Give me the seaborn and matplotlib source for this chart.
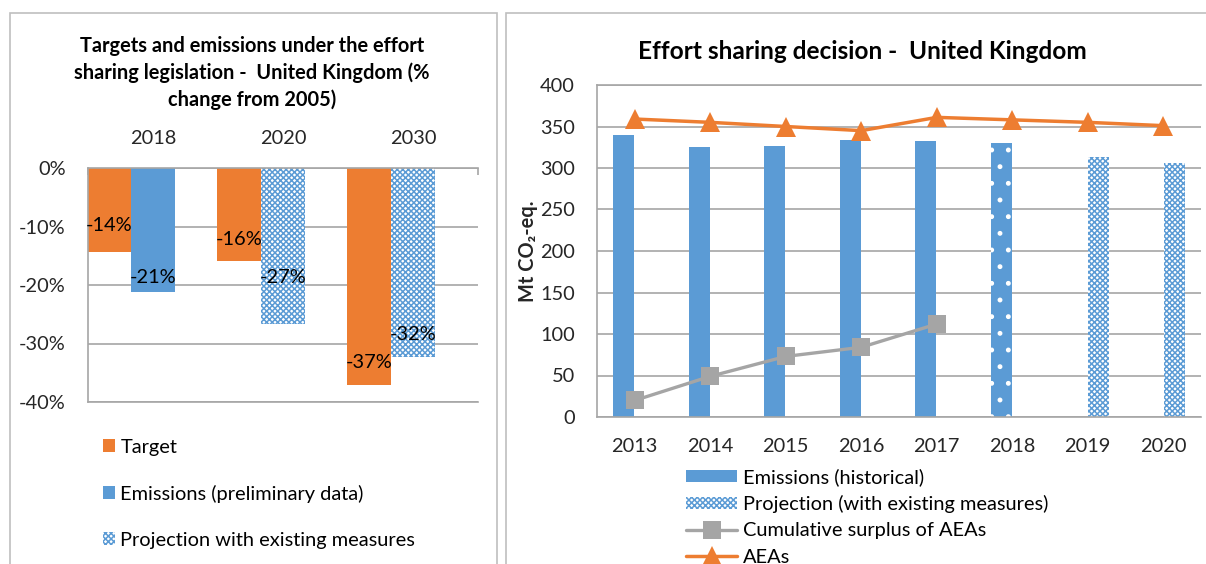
import numpy as np
import matplotlib as mpl
import matplotlib.pyplot as plt
import seaborn as sns
from matplotlib.patches import Patch, Rectangle
from matplotlib.lines import Line2D
from matplotlib.ticker import FuncFormatter

# left panel: % change from 2005
esd_years = ["2018", "2020", "2030"]
target_pct = [-14.4, -15.9, -37.1]
prelim_pct = [-21.2, np.nan, np.nan]
projection_pct = [np.nan, -26.6, -32.3]

# right panel: Mt CO2-eq.
years = ["2013", "2014", "2015", "2016", "2017", "2018", "2019", "2020"]
emissions_hist = [340, 325, 326, 334, 332, np.nan, np.nan, np.nan]
emissions_prelim = [np.nan, np.nan, np.nan, np.nan, np.nan, 330, np.nan, np.nan]
projection = [np.nan, np.nan, np.nan, np.nan, np.nan, np.nan, 313, 306]
aeas = [359, 355, 350, 345, 361, 358, 355, 351]
surplus = [20, 49, 73, 84, 112, np.nan, np.nan, np.nan]

ORANGE = "#ED7D31"
BLUE = "#5B9BD5"
GREY = "#A5A5A5"
LINE = "#A6A6A6"
CHECK = "xxxxxx"

sns.set_theme(style="white")
plt.rcParams["font.family"] = ["Lato", "DejaVu Sans"]
mpl.rcParams.update({
    "hatch.linewidth": 1.1,
    "text.color": "black",
})

W, H = 1206, 564
fig = plt.figure(figsize=(W / 100, H / 100), dpi=100)
fig.patch.set_facecolor("white")


def px_rect(x0, y0, x1, y1):
    return [x0 / W, 1 - y1 / H, (x1 - x0) / W, (y1 - y0) / H]


# panel frames
for x0, x1 in [(10, 497), (506, 1212)]:
    fig.patches.append(Rectangle((x0 / W, -0.05), (x1 - x0) / W, 1.05 - 13 / H,
                                 transform=fig.transFigure, fill=False,
                                 edgecolor="#BFBFBF", linewidth=1.2))

fs = 14.4

# ---------------- left panel ----------------
ax1 = fig.add_axes(px_rect(88, 168, 478, 402))
xi = np.arange(len(esd_years))
bw = 0.338
ax1.bar(xi - bw, target_pct, width=bw, color=ORANGE, linewidth=0)
ax1.bar(xi, prelim_pct, width=bw, color=BLUE, linewidth=0)
ax1.bar(xi, projection_pct, width=bw, facecolor="white", edgecolor=BLUE,
        hatch=CHECK, linewidth=0)

label_y = [[-9.8, -12.2, -33.2], [-18.7, -18.7, -28.4]]
second = [p if not np.isnan(p) else q for p, q in zip(prelim_pct, projection_pct)]
for i in xi:
    ax1.text(i - bw, label_y[0][i], f"{round(target_pct[i]):.0f}%",
             ha="center", va="center", fontsize=fs)
    ax1.text(i, label_y[1][i], f"{round(second[i]):.0f}%",
             ha="center", va="center", fontsize=fs)

ax1.set_xlim(-0.5, len(esd_years) - 0.5)
ax1.set_ylim(-40, 0)
ax1.set_yticks(np.arange(-40, 1, 10))
ax1.yaxis.set_major_formatter(FuncFormatter(lambda v, p: f"{v:.0f}%"))
ax1.xaxis.tick_top()
ax1.set_xticks(xi)
ax1.set_xticklabels(esd_years)
ax1.set_xticks(np.arange(-0.5, len(esd_years)), minor=True)
ax1.tick_params(axis="x", which="major", length=0, pad=15, labelsize=fs)
ax1.tick_params(axis="x", which="minor", length=5, direction="in", color=LINE, width=1.2)
ax1.tick_params(axis="y", length=6, color=LINE, width=1.2, pad=10, labelsize=fs)
ax1.grid(axis="y", color=LINE, linewidth=1.2)
ax1.set_axisbelow(True)
for s in ["left", "top", "bottom"]:
    ax1.spines[s].set_color(LINE)
    ax1.spines[s].set_linewidth(1.2)
ax1.spines["right"].set_visible(False)

fig.text(252 / W, 1 - 106 / H,
         "Targets and emissions under the effort\nsharing legislation -  United Kingdom (%\nchange from 2005)",
         ha="center", va="baseline", fontsize=14.4, fontweight="bold", linespacing=1.38)

left_handles = [
    Patch(facecolor=ORANGE, linewidth=0, label="Target"),
    Patch(facecolor=BLUE, linewidth=0, label="Emissions (preliminary data)"),
    Patch(facecolor="white", edgecolor=BLUE, hatch=CHECK, linewidth=0,
          label="Projection with existing measures"),
]
fig.legend(handles=left_handles, loc="upper left", bbox_to_anchor=(103 / W, 1 - 439 / H),
           frameon=False, fontsize=fs, handlelength=0.62, handleheight=0.62,
           handletextpad=0.25, labelspacing=1.44, borderpad=0, borderaxespad=0)

# ---------------- right panel ----------------
ax2 = fig.add_axes(px_rect(597, 85, 1201, 417))
xs = np.arange(len(years))
off, rw = 0.145, 0.28
ax2.bar(xs - off, emissions_hist, width=rw, color=BLUE, linewidth=0)
ax2.bar(xs - off, emissions_prelim, width=rw, facecolor=BLUE, edgecolor="white",
        hatch=".", linewidth=0)
ax2.bar(xs + off, projection, width=rw, facecolor="white", edgecolor=BLUE,
        hatch=CHECK, linewidth=0)

sns.lineplot(x=xs, y=surplus, ax=ax2, color=GREY, linewidth=2.4, marker="s",
             markersize=13, markeredgewidth=0, zorder=3)
sns.lineplot(x=xs, y=aeas, ax=ax2, color=ORANGE, linewidth=2.5, marker="^",
             markersize=15, markeredgewidth=0, zorder=4)

ax2.set_xlim(-0.5, len(years) - 0.5)
ax2.set_ylim(0, 400)
ax2.set_yticks(np.arange(0, 401, 50))
ax2.set_xticks(xs)
ax2.set_xticklabels(years)
ax2.set_xticks(np.arange(-0.5, len(years)), minor=True)
ax2.tick_params(axis="x", which="major", length=0, pad=15, labelsize=fs)
ax2.tick_params(axis="x", which="minor", length=6, direction="out", color=LINE, width=1.2)
ax2.tick_params(axis="y", length=6, color=LINE, width=1.2, pad=10, labelsize=fs)
ax2.grid(axis="y", color=LINE, linewidth=1.2)
ax2.set_axisbelow(True)
for s in ["left", "top", "bottom"]:
    ax2.spines[s].set_color(LINE)
    ax2.spines[s].set_linewidth(1.2)
ax2.spines["right"].set_visible(False)
ax2.set_ylabel("Mt CO\u2082-eq.", fontsize=fs, fontweight="bold")
ax2.yaxis.set_label_coords(-0.098, 0.5)

fig.text(862 / W, 1 - 59 / H, "Effort sharing decision -  United Kingdom",
         ha="center", va="baseline", fontsize=17.6, fontweight="bold")

right_handles = [
    Patch(facecolor=BLUE, linewidth=0, label="Emissions (historical)"),
    Patch(facecolor="white", edgecolor=BLUE, hatch=CHECK, linewidth=0,
          label="Projection (with existing measures)"),
    Line2D([], [], color=GREY, linewidth=2.4, marker="s", markersize=13,
           markeredgewidth=0, label="Cumulative surplus of AEAs"),
    Line2D([], [], color=ORANGE, linewidth=2.5, marker="^", markersize=15,
           markeredgewidth=0, label="AEAs"),
]
fig.legend(handles=right_handles, loc="upper left", bbox_to_anchor=(686 / W, 1 - 468 / H),
           frameon=False, fontsize=fs, handlelength=2.55, handleheight=0.55,
           handletextpad=0.3, labelspacing=0.46, borderpad=0, borderaxespad=0)

fig.savefig("out.png", dpi=100, facecolor="white")
